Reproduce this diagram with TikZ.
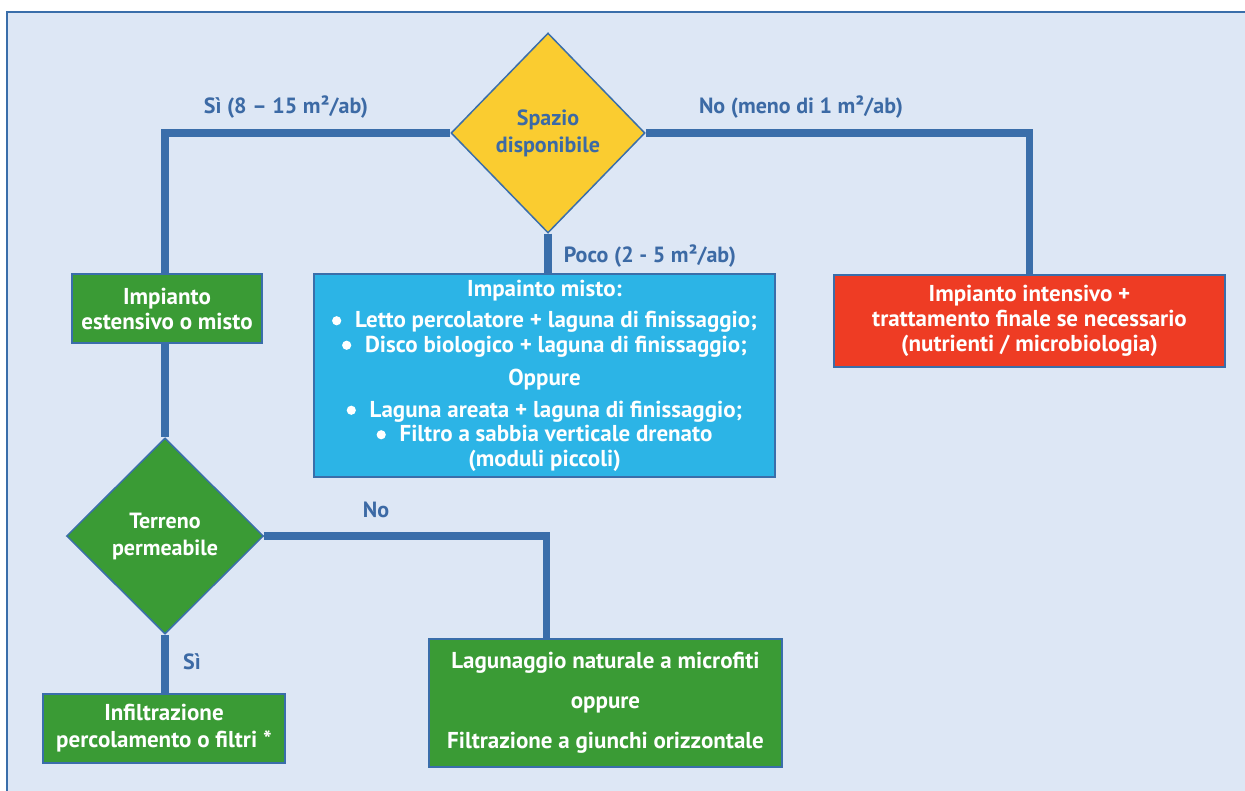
\documentclass[tikz,border=0pt]{standalone}
\usepackage{fontspec}
\setmainfont{PT Sans}
\usetikzlibrary{shapes.geometric}
\definecolor{bg}{RGB}{221,231,245}
\definecolor{wire}{RGB}{58,110,170}
\definecolor{ink}{RGB}{60,106,165}
\definecolor{sun}{RGB}{250,204,48}
\definecolor{leaf}{RGB}{58,155,53}
\definecolor{sky}{RGB}{44,180,230}
\definecolor{flame}{RGB}{238,60,36}
% round list marker drawn as a filled disc
\newcommand{\dotmark}{\tikz[baseline=-0.3em]\fill (0,0) circle (4.6pt);\hspace{0.6em}}
\begin{document}
\begin{tikzpicture}[x=1pt,y=-1pt,
  box/.style={draw=wire, line width=1.5pt, text=white, align=center, inner sep=0pt,
    font=\bfseries\fontsize{23}{25}\selectfont},
  decision/.style={diamond, draw=wire, line width=1.5pt, inner sep=0pt, align=center,
    font=\bfseries\fontsize{22}{27}\selectfont},
  wireline/.style={draw=wire, line width=7.5pt},
  lbl/.style={text=ink, inner sep=0pt, font=\bfseries\fontsize{22}{24}\selectfont}]
% page, white strip and framed panel
\useasboundingbox (0,0) rectangle (1245,791);
\fill[white] (0,0) rectangle (1245,791);
\fill[bg] (7,12) rectangle (1245,791);
\draw[wire, line width=2pt] (7,791) -- (7,12) -- (1245,12);

% decisions
\node[decision, fill=sun, text=ink, minimum width=194pt, minimum height=200pt]
  (spazio) at (548,133) {Spazio\\disponibile};
\node[decision, fill=leaf, text=white, minimum width=197pt, minimum height=196pt]
  (terreno) at (165,536) {Terreno\\permeabile};

% outcomes
\node[box, fill=leaf, minimum width=190pt, minimum height=69pt]
  (est) at (167,308.5) {Impianto\\estensivo o misto};
\node[box, fill=sky, minimum width=461pt, minimum height=203pt,
  font=\bfseries\fontsize{23}{24.5}\selectfont]
  (misto) at (544.5,375.5)
  {Impainto misto:\\[7pt]
   \dotmark Letto percolatore + laguna di finissaggio;\\
   \dotmark Disco biologico + laguna di finissaggio;\\[9pt]
   Oppure\\[7pt]
   \dotmark Laguna areata + laguna di finissaggio;\\
   \dotmark Filtro a sabbia verticale drenato\\
   (moduli piccoli)};
\node[box, fill=flame, minimum width=391pt, minimum height=92pt]
  (intens) at (1029.5,321)
  {Impianto intensivo +\\trattamento finale se necessario\\(nutrienti / microbiologia)};
\node[box, fill=leaf, minimum width=353pt, minimum height=128pt,
  font=\bfseries\fontsize{23}{40}\selectfont]
  (lag) at (605.5,703)
  {Lagunaggio naturale a microfiti\\oppure\\Filtrazione a giunchi orizzontale};
\node[box, fill=leaf, minimum width=242pt, minimum height=69pt,
  font=\bfseries\fontsize{23}{27}\selectfont]
  (inf) at (164,728.5) {Infiltrazione\\percolamento o filtri *};

% connectors
\draw[wireline] (spazio.west) -| ([xshift=-2pt]est.north);
\draw[wireline] (spazio.east) -| (intens.north);
\draw[wireline] (spazio.south) -- (spazio.south |- misto.north);
\draw[wireline] (terreno.north |- est.south) -- (terreno.north);
\draw[wireline] (terreno.east) -| ([xshift=-59pt]lag.north);
\draw[wireline] (terreno.south) -- (terreno.south |- inf.north);

% branch labels
\node[lbl] (lsi1) at (286,107) {Sì (8 – 15 m²/ab)};
\node[lbl] (lno1) at (801,107) {No (meno di 1 m²/ab)};
\node[lbl] (lpoco) at (650,256) {Poco (2 - 5 m²/ab)};
\node[lbl] (lno2) at (376,510) {No};
\node[lbl] (lsi2) at (192,662) {Sì};
\end{tikzpicture}
\end{document}
